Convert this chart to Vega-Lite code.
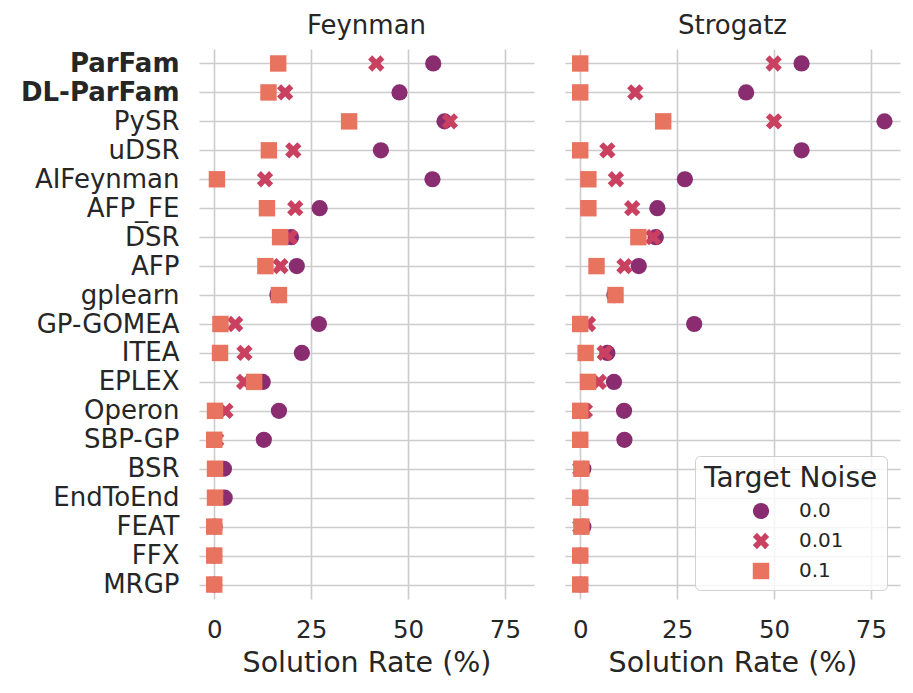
{
  "$schema": "https://vega.github.io/schema/vega-lite/v6.json",
  "padding": {"left": 20, "top": 13, "right": 10, "bottom": 8},
  "background": "white",
  "data": {"values": [
    {"dataset": "Feynman", "algorithm": "ParFam", "noise": "0.0", "rate": 56.5},
    {"dataset": "Feynman", "algorithm": "DL-ParFam", "noise": "0.0", "rate": 47.8},
    {"dataset": "Feynman", "algorithm": "PySR", "noise": "0.0", "rate": 59.4},
    {"dataset": "Feynman", "algorithm": "uDSR", "noise": "0.0", "rate": 43.0},
    {"dataset": "Feynman", "algorithm": "AIFeynman", "noise": "0.0", "rate": 56.3},
    {"dataset": "Feynman", "algorithm": "AFP_FE", "noise": "0.0", "rate": 27.2},
    {"dataset": "Feynman", "algorithm": "DSR", "noise": "0.0", "rate": 19.8},
    {"dataset": "Feynman", "algorithm": "AFP", "noise": "0.0", "rate": 21.3},
    {"dataset": "Feynman", "algorithm": "gplearn", "noise": "0.0", "rate": 16.3},
    {"dataset": "Feynman", "algorithm": "GP-GOMEA", "noise": "0.0", "rate": 27.0},
    {"dataset": "Feynman", "algorithm": "ITEA", "noise": "0.0", "rate": 22.6},
    {"dataset": "Feynman", "algorithm": "EPLEX", "noise": "0.0", "rate": 12.5},
    {"dataset": "Feynman", "algorithm": "Operon", "noise": "0.0", "rate": 16.7},
    {"dataset": "Feynman", "algorithm": "SBP-GP", "noise": "0.0", "rate": 12.8},
    {"dataset": "Feynman", "algorithm": "BSR", "noise": "0.0", "rate": 2.5},
    {"dataset": "Feynman", "algorithm": "EndToEnd", "noise": "0.0", "rate": 2.7},
    {"dataset": "Feynman", "algorithm": "FEAT", "noise": "0.0", "rate": 0.1},
    {"dataset": "Feynman", "algorithm": "FFX", "noise": "0.0", "rate": 0.0},
    {"dataset": "Feynman", "algorithm": "MRGP", "noise": "0.0", "rate": 0.0},
    {"dataset": "Strogatz", "algorithm": "ParFam", "noise": "0.0", "rate": 57.1},
    {"dataset": "Strogatz", "algorithm": "DL-ParFam", "noise": "0.0", "rate": 42.8},
    {"dataset": "Strogatz", "algorithm": "PySR", "noise": "0.0", "rate": 78.5},
    {"dataset": "Strogatz", "algorithm": "uDSR", "noise": "0.0", "rate": 57.1},
    {"dataset": "Strogatz", "algorithm": "AIFeynman", "noise": "0.0", "rate": 27.0},
    {"dataset": "Strogatz", "algorithm": "AFP_FE", "noise": "0.0", "rate": 19.9},
    {"dataset": "Strogatz", "algorithm": "DSR", "noise": "0.0", "rate": 19.5},
    {"dataset": "Strogatz", "algorithm": "AFP", "noise": "0.0", "rate": 15.1},
    {"dataset": "Strogatz", "algorithm": "gplearn", "noise": "0.0", "rate": 8.8},
    {"dataset": "Strogatz", "algorithm": "GP-GOMEA", "noise": "0.0", "rate": 29.4},
    {"dataset": "Strogatz", "algorithm": "ITEA", "noise": "0.0", "rate": 7.0},
    {"dataset": "Strogatz", "algorithm": "EPLEX", "noise": "0.0", "rate": 8.7},
    {"dataset": "Strogatz", "algorithm": "Operon", "noise": "0.0", "rate": 11.3},
    {"dataset": "Strogatz", "algorithm": "SBP-GP", "noise": "0.0", "rate": 11.4},
    {"dataset": "Strogatz", "algorithm": "BSR", "noise": "0.0", "rate": 0.8},
    {"dataset": "Strogatz", "algorithm": "EndToEnd", "noise": "0.0", "rate": 0.0},
    {"dataset": "Strogatz", "algorithm": "FEAT", "noise": "0.0", "rate": 0.8},
    {"dataset": "Strogatz", "algorithm": "FFX", "noise": "0.0", "rate": 0.0},
    {"dataset": "Strogatz", "algorithm": "MRGP", "noise": "0.0", "rate": 0.0},
    {"dataset": "Feynman", "algorithm": "ParFam", "noise": "0.01", "rate": 41.8},
    {"dataset": "Feynman", "algorithm": "DL-ParFam", "noise": "0.01", "rate": 18.3},
    {"dataset": "Feynman", "algorithm": "PySR", "noise": "0.01", "rate": 60.8},
    {"dataset": "Feynman", "algorithm": "uDSR", "noise": "0.01", "rate": 20.4},
    {"dataset": "Feynman", "algorithm": "AIFeynman", "noise": "0.01", "rate": 13.1},
    {"dataset": "Feynman", "algorithm": "AFP_FE", "noise": "0.01", "rate": 20.9},
    {"dataset": "Feynman", "algorithm": "DSR", "noise": "0.01", "rate": 19.5},
    {"dataset": "Feynman", "algorithm": "AFP", "noise": "0.01", "rate": 17.1},
    {"dataset": "Feynman", "algorithm": "gplearn", "noise": "0.01", "rate": 16.4},
    {"dataset": "Feynman", "algorithm": "GP-GOMEA", "noise": "0.01", "rate": 5.4},
    {"dataset": "Feynman", "algorithm": "ITEA", "noise": "0.01", "rate": 7.8},
    {"dataset": "Feynman", "algorithm": "EPLEX", "noise": "0.01", "rate": 7.7},
    {"dataset": "Feynman", "algorithm": "Operon", "noise": "0.01", "rate": 2.9},
    {"dataset": "Feynman", "algorithm": "SBP-GP", "noise": "0.01", "rate": 0.5},
    {"dataset": "Feynman", "algorithm": "BSR", "noise": "0.01", "rate": 0.3},
    {"dataset": "Feynman", "algorithm": "EndToEnd", "noise": "0.01", "rate": 0.5},
    {"dataset": "Feynman", "algorithm": "FEAT", "noise": "0.01", "rate": 0.0},
    {"dataset": "Feynman", "algorithm": "FFX", "noise": "0.01", "rate": 0.0},
    {"dataset": "Feynman", "algorithm": "MRGP", "noise": "0.01", "rate": 0.0},
    {"dataset": "Strogatz", "algorithm": "ParFam", "noise": "0.01", "rate": 49.9},
    {"dataset": "Strogatz", "algorithm": "DL-ParFam", "noise": "0.01", "rate": 14.2},
    {"dataset": "Strogatz", "algorithm": "PySR", "noise": "0.01", "rate": 50.0},
    {"dataset": "Strogatz", "algorithm": "uDSR", "noise": "0.01", "rate": 7.0},
    {"dataset": "Strogatz", "algorithm": "AIFeynman", "noise": "0.01", "rate": 9.2},
    {"dataset": "Strogatz", "algorithm": "AFP_FE", "noise": "0.01", "rate": 13.4},
    {"dataset": "Strogatz", "algorithm": "DSR", "noise": "0.01", "rate": 18.8},
    {"dataset": "Strogatz", "algorithm": "AFP", "noise": "0.01", "rate": 11.4},
    {"dataset": "Strogatz", "algorithm": "gplearn", "noise": "0.01", "rate": 9.0},
    {"dataset": "Strogatz", "algorithm": "GP-GOMEA", "noise": "0.01", "rate": 2.0},
    {"dataset": "Strogatz", "algorithm": "ITEA", "noise": "0.01", "rate": 6.3},
    {"dataset": "Strogatz", "algorithm": "EPLEX", "noise": "0.01", "rate": 4.8},
    {"dataset": "Strogatz", "algorithm": "Operon", "noise": "0.01", "rate": 1.2},
    {"dataset": "Strogatz", "algorithm": "SBP-GP", "noise": "0.01", "rate": 0.0},
    {"dataset": "Strogatz", "algorithm": "BSR", "noise": "0.01", "rate": 0.0},
    {"dataset": "Strogatz", "algorithm": "EndToEnd", "noise": "0.01", "rate": 0.0},
    {"dataset": "Strogatz", "algorithm": "FEAT", "noise": "0.01", "rate": 0.0},
    {"dataset": "Strogatz", "algorithm": "FFX", "noise": "0.01", "rate": 0.0},
    {"dataset": "Strogatz", "algorithm": "MRGP", "noise": "0.01", "rate": 0.0},
    {"dataset": "Feynman", "algorithm": "ParFam", "noise": "0.1", "rate": 16.5},
    {"dataset": "Feynman", "algorithm": "DL-ParFam", "noise": "0.1", "rate": 14.0},
    {"dataset": "Feynman", "algorithm": "PySR", "noise": "0.1", "rate": 34.8},
    {"dataset": "Feynman", "algorithm": "uDSR", "noise": "0.1", "rate": 14.1},
    {"dataset": "Feynman", "algorithm": "AIFeynman", "noise": "0.1", "rate": 0.7},
    {"dataset": "Feynman", "algorithm": "AFP_FE", "noise": "0.1", "rate": 13.6},
    {"dataset": "Feynman", "algorithm": "DSR", "noise": "0.1", "rate": 17.0},
    {"dataset": "Feynman", "algorithm": "AFP", "noise": "0.1", "rate": 13.2},
    {"dataset": "Feynman", "algorithm": "gplearn", "noise": "0.1", "rate": 16.7},
    {"dataset": "Feynman", "algorithm": "GP-GOMEA", "noise": "0.1", "rate": 1.6},
    {"dataset": "Feynman", "algorithm": "ITEA", "noise": "0.1", "rate": 1.5},
    {"dataset": "Feynman", "algorithm": "EPLEX", "noise": "0.1", "rate": 10.3},
    {"dataset": "Feynman", "algorithm": "Operon", "noise": "0.1", "rate": 0.2},
    {"dataset": "Feynman", "algorithm": "SBP-GP", "noise": "0.1", "rate": 0.0},
    {"dataset": "Feynman", "algorithm": "BSR", "noise": "0.1", "rate": 0.2},
    {"dataset": "Feynman", "algorithm": "EndToEnd", "noise": "0.1", "rate": 0.2},
    {"dataset": "Feynman", "algorithm": "FEAT", "noise": "0.1", "rate": 0.0},
    {"dataset": "Feynman", "algorithm": "FFX", "noise": "0.1", "rate": 0.0},
    {"dataset": "Feynman", "algorithm": "MRGP", "noise": "0.1", "rate": 0.0},
    {"dataset": "Strogatz", "algorithm": "ParFam", "noise": "0.1", "rate": 0.0},
    {"dataset": "Strogatz", "algorithm": "DL-ParFam", "noise": "0.1", "rate": 0.0},
    {"dataset": "Strogatz", "algorithm": "PySR", "noise": "0.1", "rate": 21.4},
    {"dataset": "Strogatz", "algorithm": "uDSR", "noise": "0.1", "rate": 0.0},
    {"dataset": "Strogatz", "algorithm": "AIFeynman", "noise": "0.1", "rate": 2.1},
    {"dataset": "Strogatz", "algorithm": "AFP_FE", "noise": "0.1", "rate": 2.1},
    {"dataset": "Strogatz", "algorithm": "DSR", "noise": "0.1", "rate": 15.0},
    {"dataset": "Strogatz", "algorithm": "AFP", "noise": "0.1", "rate": 4.2},
    {"dataset": "Strogatz", "algorithm": "gplearn", "noise": "0.1", "rate": 9.1},
    {"dataset": "Strogatz", "algorithm": "GP-GOMEA", "noise": "0.1", "rate": 0.0},
    {"dataset": "Strogatz", "algorithm": "ITEA", "noise": "0.1", "rate": 1.4},
    {"dataset": "Strogatz", "algorithm": "EPLEX", "noise": "0.1", "rate": 2.0},
    {"dataset": "Strogatz", "algorithm": "Operon", "noise": "0.1", "rate": 0.0},
    {"dataset": "Strogatz", "algorithm": "SBP-GP", "noise": "0.1", "rate": 0.0},
    {"dataset": "Strogatz", "algorithm": "BSR", "noise": "0.1", "rate": 0.3},
    {"dataset": "Strogatz", "algorithm": "EndToEnd", "noise": "0.1", "rate": 0.0},
    {"dataset": "Strogatz", "algorithm": "FEAT", "noise": "0.1", "rate": 0.3},
    {"dataset": "Strogatz", "algorithm": "FFX", "noise": "0.1", "rate": 0.0},
    {"dataset": "Strogatz", "algorithm": "MRGP", "noise": "0.1", "rate": 0.0}
  ]},
  "facet": {
    "column": {
      "field": "dataset", "type": "nominal", "sort": ["Feynman", "Strogatz"],
      "header": {"title": null, "labelFontSize": 26, "labelColor": "#262626", "labelPadding": 10, "labelFont": "DejaVu Sans"}
    }
  },
  "spacing": 31,
  "spec": {
    "width": 335,
    "height": 550,
    "mark": {"type": "point", "filled": true, "opacity": 1, "strokeWidth": 0},
    "encoding": {
      "x": {
        "field": "rate", "type": "quantitative",
        "scale": {"domain": [-3.93, 82.5], "nice": false, "zero": false},
        "axis": {"values": [0, 25, 50, 75], "title": "Solution Rate (%)", "labelFontSize": 24.5, "titleFontSize": 28.5, "labelPadding": 19, "titlePadding": 7, "grid": true}
      },
      "y": {
        "field": "algorithm", "type": "nominal",
        "sort": ["ParFam", "DL-ParFam", "PySR", "uDSR", "AIFeynman", "AFP_FE", "DSR", "AFP", "gplearn", "GP-GOMEA", "ITEA", "EPLEX", "Operon", "SBP-GP", "BSR", "EndToEnd", "FEAT", "FFX", "MRGP"],
        "axis": {
          "title": null, "labelFontSize": 26, "labelPadding": 20, "grid": true,
          "labelFontWeight": {"condition": {"test": "datum.label === 'ParFam' || datum.label === 'DL-ParFam'", "value": "bold"}, "value": "normal"}
        }
      },
      "color": {
        "field": "noise", "type": "nominal",
        "scale": {"domain": ["0.0", "0.01", "0.1"], "range": ["#892c70", "#c94060", "#e87460"]},
        "legend": {"title": "Target Noise"}
      },
      "shape": {
        "field": "noise", "type": "nominal",
        "scale": {"domain": ["0.0", "0.01", "0.1"], "range": ["circle", "M0.5,-1L1,-0.5L0.5,0L1,0.5L0.5,1L0,0.5L-0.5,1L-1,0.5L-0.5,0L-1,-0.5L-0.5,-1L0,-0.5Z", "square"]},
        "legend": {"title": "Target Noise"}
      },
      "size": {
        "field": "noise", "type": "nominal",
        "scale": {"domain": ["0.0", "0.01", "0.1"], "range": [263, 270, 300]},
        "legend": {"title": "Target Noise"}
      }
    }
  },
  "config": {
    "font": "DejaVu Sans",
    "view": {"stroke": null},
    "axis": {"domain": false, "ticks": false, "gridColor": "#cccccc", "gridWidth": 1.6, "labelColor": "#262626", "titleColor": "#262626", "titleFontWeight": "normal", "labelFont": "DejaVu Sans", "titleFont": "DejaVu Sans"},
    "legend": {
      "orient": "none", "legendX": 496, "legendY": 407,
      "titleFontSize": 28, "titleFontWeight": "normal", "titleColor": "#262626", "titleFont": "DejaVu Sans",
      "labelFontSize": 20, "labelColor": "#262626", "labelFont": "DejaVu Sans",
      "fillColor": "rgba(255,255,255,0.8)", "strokeColor": "#d0d0d0", "cornerRadius": 5, "padding": 9,
      "symbolOffset": 47, "labelOffset": 28, "rowPadding": 10, "titlePadding": 8, "symbolStrokeWidth": 0
    }
  }
}
